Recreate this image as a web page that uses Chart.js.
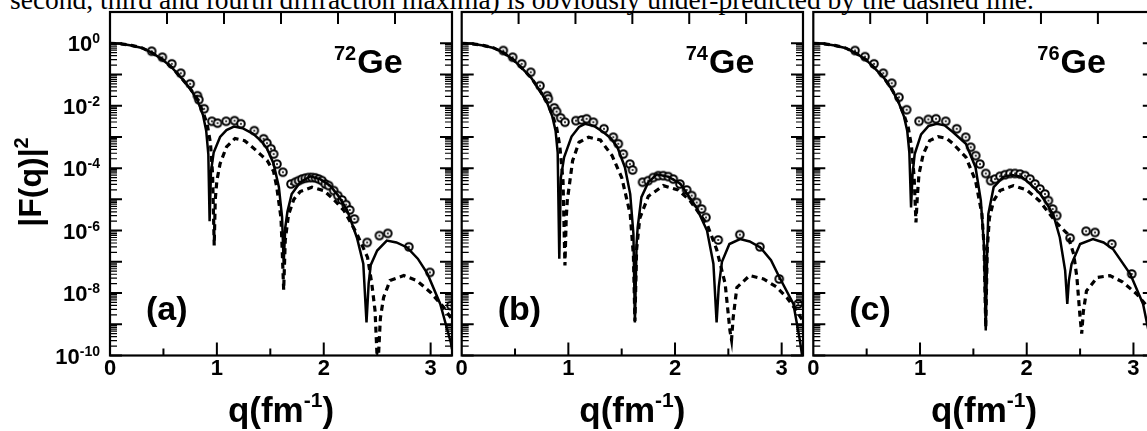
<!DOCTYPE html>
<html>
<head>
<meta charset="utf-8">
<script src="https://cdn.jsdelivr.net/npm/chart.js@4.4.0/dist/chart.umd.min.js"></script>
<style>
html, body { margin: 0; padding: 0; background: #fff; overflow: hidden; }
#wrap { position: relative; width: 1147px; height: 431px; overflow: hidden; }
canvas { position: absolute; top: 0; }
#caption { position: absolute; left: 10px; top: -14px; font: 27.5px "Liberation Serif", serif; line-height: 27.5px; white-space: nowrap; color: #000; }
</style>
</head>
<body>
<div id="wrap">
  <div id="caption">second, third and fourth diffraction maxima) is obviously under-predicted by the dashed line.</div>
  <canvas id="chartA" width="458" height="431" style="left:0px"></canvas>
  <canvas id="chartB" width="352" height="431" style="left:456px"></canvas>
  <canvas id="chartC" width="352" height="431" style="left:808px"></canvas>
</div>
<script>
// values are [q (fm^-1), log10 |F(q)|^2]

// (a) 72Ge
const solidA = [[0,0],[0.1,-0.02],[0.2,-0.07],[0.3,-0.15],[0.39,-0.3],[0.49,-0.52],[0.58,-0.78],[0.66,-1.08],[0.75,-1.45],[0.82,-1.84],[0.87,-2.3],[0.9,-2.8],[0.92,-3.55],[0.932,-5.7],[0.945,-4.1],[0.97,-3.5],[1.03,-3.0],[1.09,-2.78],[1.16,-2.67],[1.24,-2.72],[1.34,-2.9],[1.42,-3.15],[1.47,-3.38],[1.53,-3.85],[1.58,-4.6],[1.61,-5.57],[1.625,-7.06],[1.64,-5.9],[1.66,-5.4],[1.7,-4.83],[1.78,-4.45],[1.875,-4.26],[1.97,-4.36],[2.06,-4.56],[2.14,-4.9],[2.22,-5.36],[2.31,-6.22],[2.37,-7.06],[2.4,-8.94],[2.42,-7.7],[2.44,-7.1],[2.5,-6.64],[2.59,-6.32],[2.68,-6.38],[2.78,-6.54],[2.88,-6.9],[2.97,-7.38],[3.09,-8.35],[3.19,-9.6],[3.2,-9.8]];
const dashedA = [[0,0],[0.1,-0.02],[0.2,-0.07],[0.3,-0.15],[0.39,-0.3],[0.49,-0.52],[0.58,-0.78],[0.66,-1.08],[0.75,-1.45],[0.82,-1.8],[0.87,-2.2],[0.91,-2.6],[0.94,-3.2],[0.96,-4.2],[0.975,-6.48],[0.985,-5.0],[1.0,-4.4],[1.03,-3.86],[1.09,-3.32],[1.17,-3.05],[1.26,-3.12],[1.34,-3.35],[1.42,-3.6],[1.47,-3.75],[1.53,-4.1],[1.56,-4.6],[1.6,-5.6],[1.625,-7.9],[1.64,-6.3],[1.67,-5.5],[1.72,-5.0],[1.78,-4.75],[1.89,-4.61],[2.0,-4.72],[2.09,-4.99],[2.19,-5.36],[2.31,-6.1],[2.41,-6.86],[2.45,-7.71],[2.48,-8.57],[2.505,-10.5],[2.53,-8.8],[2.56,-8.14],[2.62,-7.6],[2.75,-7.44],[2.87,-7.6],[3.0,-7.98],[3.12,-8.45],[3.2,-8.85]];
const dataA = [[0.39,-0.256],[0.49,-0.448],[0.578,-0.66],[0.662,-0.96],[0.75,-1.3],[0.818,-1.68],[0.831,-1.81],[0.881,-2.1],[0.953,-2.5],[1.006,-2.56],[1.087,-2.5],[1.165,-2.48],[1.225,-2.58],[1.35,-2.8],[1.437,-3.06],[1.468,-3.2],[1.506,-3.38],[1.531,-3.55],[1.562,-3.87],[1.618,-4.13],[1.693,-4.51],[1.734,-4.45],[1.765,-4.4],[1.797,-4.35],[1.828,-4.32],[1.859,-4.3],[1.89,-4.3],[1.922,-4.31],[1.953,-4.35],[1.984,-4.4],[2.015,-4.51],[2.046,-4.56],[2.093,-4.72],[2.131,-4.88],[2.171,-5.02],[2.209,-5.17],[2.243,-5.34],[2.287,-5.63],[2.406,-6.38],[2.521,-6.16],[2.599,-6.09],[2.796,-6.52],[2.993,-7.34],[3.19,-8.4]];

// (b) 74Ge
const solidB = [[0,0],[0.1,-0.02],[0.2,-0.07],[0.3,-0.15],[0.39,-0.3],[0.48,-0.52],[0.56,-0.78],[0.65,-1.1],[0.73,-1.5],[0.8,-1.9],[0.85,-2.35],[0.88,-2.8],[0.9,-3.5],[0.915,-6.9],[0.93,-4.3],[0.96,-3.65],[1.03,-2.99],[1.1,-2.68],[1.156,-2.58],[1.24,-2.65],[1.33,-2.85],[1.4,-3.05],[1.46,-3.33],[1.53,-3.97],[1.58,-4.83],[1.61,-6.1],[1.624,-8.94],[1.64,-6.4],[1.65,-5.9],[1.685,-4.93],[1.75,-4.45],[1.83,-4.2],[1.94,-4.28],[2.05,-4.5],[2.2,-5.26],[2.3,-6.0],[2.36,-7.06],[2.39,-8.94],[2.41,-7.8],[2.44,-7.0],[2.51,-6.43],[2.61,-6.27],[2.7,-6.35],[2.8,-6.54],[2.9,-6.95],[2.98,-7.5],[3.11,-8.35],[3.17,-9.5],[3.2,-10.2]];
const dashedB = [[0,0],[0.1,-0.02],[0.2,-0.07],[0.3,-0.15],[0.39,-0.3],[0.48,-0.52],[0.56,-0.78],[0.65,-1.1],[0.73,-1.5],[0.8,-1.88],[0.85,-2.3],[0.89,-2.7],[0.92,-3.3],[0.95,-4.4],[0.968,-7.12],[0.98,-5.6],[0.99,-5.04],[1.04,-3.76],[1.1,-3.17],[1.19,-3.01],[1.3,-3.1],[1.41,-3.6],[1.5,-4.3],[1.58,-5.47],[1.61,-6.8],[1.624,-8.9],[1.64,-6.6],[1.67,-5.6],[1.75,-4.9],[1.89,-4.56],[2.03,-4.7],[2.14,-5.04],[2.3,-5.79],[2.39,-6.6],[2.47,-7.7],[2.515,-9.2],[2.53,-9.5],[2.545,-8.8],[2.58,-7.82],[2.7,-7.44],[2.83,-7.55],[2.95,-7.8],[3.05,-8.15],[3.14,-8.57],[3.2,-8.9]];
const dataB = [[0.39,-0.234],[0.478,-0.448],[0.562,-0.66],[0.647,-0.93],[0.734,-1.36],[0.802,-1.68],[0.812,-1.78],[0.868,-2.07],[0.89,-2.19],[0.928,-2.39],[0.968,-2.53],[1.071,-2.48],[1.125,-2.46],[1.171,-2.42],[1.234,-2.53],[1.334,-2.74],[1.421,-3.01],[1.468,-3.22],[1.515,-3.55],[1.577,-3.87],[1.602,-4.06],[1.696,-4.45],[1.749,-4.4],[1.796,-4.3],[1.843,-4.24],[1.89,-4.24],[1.937,-4.27],[1.984,-4.35],[2.046,-4.51],[2.109,-4.7],[2.156,-4.88],[2.203,-5.1],[2.249,-5.31],[2.29,-5.58],[2.405,-6.3],[2.608,-6.13],[2.796,-6.52],[2.977,-7.55],[3.155,-8.35]];

// (c) 76Ge
const solidC = [[0,0],[0.1,-0.02],[0.2,-0.07],[0.3,-0.15],[0.39,-0.3],[0.49,-0.52],[0.57,-0.78],[0.66,-1.1],[0.74,-1.5],[0.8,-1.9],[0.85,-2.35],[0.88,-2.8],[0.9,-3.5],[0.916,-5.26],[0.93,-4.2],[0.95,-3.55],[1.01,-2.92],[1.08,-2.65],[1.156,-2.58],[1.23,-2.63],[1.31,-2.85],[1.43,-3.22],[1.52,-3.97],[1.57,-5.04],[1.6,-6.5],[1.616,-9.2],[1.63,-6.5],[1.64,-5.47],[1.69,-4.61],[1.78,-4.28],[1.86,-4.22],[1.95,-4.27],[2.03,-4.5],[2.12,-4.8],[2.19,-5.15],[2.25,-5.5],[2.31,-6.22],[2.36,-7.28],[2.38,-8.35],[2.395,-7.6],[2.42,-7.07],[2.5,-6.43],[2.62,-6.27],[2.72,-6.38],[2.81,-6.6],[2.97,-7.39],[3.09,-8.35],[3.2,-10.2]];
const dashedC = [[0,0],[0.1,-0.02],[0.2,-0.07],[0.3,-0.15],[0.39,-0.3],[0.49,-0.52],[0.57,-0.78],[0.66,-1.1],[0.74,-1.5],[0.8,-1.88],[0.85,-2.3],[0.89,-2.7],[0.92,-3.3],[0.945,-4.3],[0.962,-5.74],[0.975,-4.9],[0.99,-4.2],[1.03,-3.55],[1.09,-3.12],[1.17,-2.99],[1.25,-3.05],[1.31,-3.22],[1.43,-3.65],[1.52,-4.4],[1.58,-5.47],[1.6,-6.5],[1.616,-9.1],[1.63,-6.6],[1.65,-5.6],[1.69,-5.04],[1.75,-4.72],[1.875,-4.56],[2.0,-4.7],[2.12,-5.05],[2.28,-5.75],[2.38,-6.1],[2.44,-6.75],[2.47,-7.5],[2.5,-8.78],[2.515,-9.3],[2.53,-8.6],[2.56,-7.93],[2.66,-7.5],[2.78,-7.44],[2.9,-7.65],[3.03,-8.03],[3.11,-8.35],[3.2,-8.75]];
const dataC = [[0.391,-0.234],[0.485,-0.43],[0.569,-0.66],[0.656,-0.96],[0.735,-1.28],[0.803,-1.73],[0.875,-2.13],[0.991,-2.5],[1.078,-2.44],[1.15,-2.42],[1.241,-2.5],[1.344,-2.74],[1.428,-3.01],[1.475,-3.33],[1.522,-3.6],[1.562,-3.87],[1.616,-4.17],[1.662,-4.4],[1.703,-4.35],[1.75,-4.26],[1.797,-4.21],[1.843,-4.17],[1.89,-4.17],[1.937,-4.19],[1.984,-4.24],[2.031,-4.35],[2.078,-4.51],[2.124,-4.67],[2.171,-4.83],[2.203,-5.04],[2.243,-5.31],[2.281,-5.52],[2.406,-6.24],[2.556,-6.02],[2.64,-6.06],[2.797,-6.43],[2.984,-7.39]];

// axis ticks
const xLabels = [0, 1, 2, 3];
const xMajor = [1, 2, 3];
const xMinor = [0.5, 1.5, 2.5];
const topTicks = [1, 2, 3, 4, 5];
const decades = [-10, -9, -8, -7, -6, -5, -4, -3, -2, -1, 0];
const minorSteps = [2, 3, 4, 5, 6, 7, 8, 9];
const yLabelExps = [0, -2, -4, -6, -8, -10];

const toXY = arr => arr.map(p => ({ x: p[0], y: Math.pow(10, p[1]) }));

// open circle with a dot, like the experimental points
const marker = document.createElement('canvas');
marker.width = 12; marker.height = 12;
(function () {
    const m = marker.getContext('2d');
    m.beginPath();
    m.arc(6, 6, 3.8, 0, Math.PI * 2);
    m.fillStyle = '#fff';
    m.fill();
    m.lineWidth = 2;
    m.strokeStyle = '#000';
    m.stroke();
    m.beginPath();
    m.arc(6, 6, 1, 0, Math.PI * 2);
    m.fillStyle = '#000';
    m.fill();
})();

const BOLD = '"Liberation Sans", Arial, sans-serif';

const deco = {
    id: 'deco',
    afterDatasetsDraw(chart, args, opts) {
        const ctx = chart.ctx;
        const a = chart.chartArea;
        const x = chart.scales.x, xt = chart.scales.xTop, y = chart.scales.y;
        ctx.save();
        ctx.strokeStyle = '#000';
        ctx.fillStyle = '#000';

        // log ticks on both sides, pointing in
        for (const d of decades) {
            const py = y.getPixelForValue(Math.pow(10, d));
            ctx.lineWidth = 2;
            ctx.beginPath();
            ctx.moveTo(a.left, py); ctx.lineTo(a.left + 12, py);
            ctx.moveTo(a.right, py); ctx.lineTo(a.right - 12, py);
            ctx.stroke();
            if (d === 0) continue;
            ctx.lineWidth = 1.2;
            ctx.beginPath();
            for (const s of minorSteps) {
                const pm = y.getPixelForValue(s * Math.pow(10, d));
                ctx.moveTo(a.left, pm); ctx.lineTo(a.left + 7, pm);
                ctx.moveTo(a.right, pm); ctx.lineTo(a.right - 7, pm);
            }
            ctx.stroke();
        }
        ctx.lineWidth = 2;
        ctx.beginPath();
        for (const v of xMajor) {
            const px = x.getPixelForValue(v);
            ctx.moveTo(px, a.bottom); ctx.lineTo(px, a.bottom - 13);
        }
        for (const v of xMinor) {
            const px = x.getPixelForValue(v);
            ctx.moveTo(px, a.bottom); ctx.lineTo(px, a.bottom - 7);
        }
        for (const v of topTicks) {
            const px = xt.getPixelForValue(v);
            ctx.moveTo(px, a.top); ctx.lineTo(px, a.top + 12);
        }
        ctx.stroke();

        ctx.lineWidth = 2.2;
        ctx.strokeRect(a.left, a.top, a.right - a.left, a.bottom - a.top);

        // x tick labels
        ctx.font = 'bold 22px ' + BOLD;
        ctx.textAlign = 'center';
        ctx.textBaseline = 'alphabetic';
        for (const v of xLabels) {
            ctx.fillText(String(v), x.getPixelForValue(v), 375);
        }

        // y tick labels 10^n
        ctx.textAlign = 'left';
        if (opts.yLabels) {
            for (const e of yLabelExps) {
                const py = y.getPixelForValue(Math.pow(10, e));
                ctx.font = 'bold 14px ' + BOLD;
                const sw = ctx.measureText(String(e)).width;
                ctx.font = 'bold 22px ' + BOLD;
                const tw = ctx.measureText('10').width;
                ctx.fillText('10', 100 - sw - tw, py + 8);
                ctx.font = 'bold 14px ' + BOLD;
                ctx.fillText(String(e), 100 - sw, py);
            }
        }

        // isotope label
        ctx.font = 'bold 20px ' + BOLD;
        ctx.fillText(opts.iso, a.left + 224, a.top + 48);
        const iw = ctx.measureText(opts.iso).width;
        ctx.font = 'bold 34px ' + BOLD;
        ctx.fillText('Ge', a.left + 225 + iw, a.top + 61);

        // panel tag
        ctx.font = 'bold 34px ' + BOLD;
        ctx.fillText(opts.tag, a.left + 36, 320);

        // x title q(fm^-1)
        const cx = (a.left + a.right) / 2;
        ctx.font = 'bold 35px ' + BOLD;
        const w1 = ctx.measureText('q(fm').width;
        const w3 = ctx.measureText(')').width;
        ctx.font = 'bold 21px ' + BOLD;
        const w2 = ctx.measureText('-1').width;
        let sx = cx - (w1 + w2 + w3) / 2;
        ctx.font = 'bold 35px ' + BOLD;
        ctx.fillText('q(fm', sx, 422);
        ctx.font = 'bold 21px ' + BOLD;
        ctx.fillText('-1', sx + w1, 407);
        ctx.font = 'bold 35px ' + BOLD;
        ctx.fillText(')', sx + w1 + w2, 422);

        // y title |F(q)|^2
        if (opts.yTitle) {
            ctx.translate(40.5, 182);
            ctx.rotate(-Math.PI / 2);
            ctx.font = 'bold 32px ' + BOLD;
            const t1 = ctx.measureText('|F(q)|').width;
            ctx.font = 'bold 20px ' + BOLD;
            const t2 = ctx.measureText('2').width;
            const s0 = -(t1 + t2) / 2;
            ctx.font = 'bold 32px ' + BOLD;
            ctx.fillText('|F(q)|', s0, 0);
            ctx.font = 'bold 20px ' + BOLD;
            ctx.fillText('2', s0 + t1, -13);
        }
        ctx.restore();
    }
};

function makePanel(id, solid, dashed, points, pad, deco_opts) {
    return new Chart(document.getElementById(id), {
        type: 'line',
        data: {
            datasets: [
                {
                    label: 'solid',
                    data: toXY(solid),
                    borderColor: '#000',
                    borderWidth: 2.5,
                    pointRadius: 0,
                    tension: 0,
                    fill: false,
                    clip: 0
                },
                {
                    label: 'dashed',
                    data: toXY(dashed),
                    borderColor: '#000',
                    borderWidth: 3.2,
                    borderDash: [6, 4.5],
                    pointRadius: 0,
                    tension: 0,
                    fill: false,
                    clip: 0
                },
                {
                    label: 'data',
                    data: toXY(points),
                    showLine: false,
                    pointStyle: marker,
                    pointRadius: 4,
                    clip: 0
                }
            ]
        },
        options: {
            responsive: false,
            animation: false,
            events: [],
            layout: { padding: pad },
            scales: {
                x: { type: 'linear', min: 0, max: 3.2, display: false },
                xTop: { type: 'linear', position: 'top', min: 0, max: 6, display: false },
                y: { type: 'logarithmic', min: 1e-10, max: 10, display: false }
            },
            plugins: {
                legend: { display: false },
                tooltip: { enabled: false },
                deco: deco_opts
            }
        },
        plugins: [deco]
    });
}

makePanel('chartA', solidA, dashedA, dataA,
    { left: 110, right: 6, top: 12, bottom: 75.5 },
    { iso: '72', tag: '(a)', yLabels: true, yTitle: true });
makePanel('chartB', solidB, dashedB, dataB,
    { left: 5.7, right: 4.7, top: 12, bottom: 75.5 },
    { iso: '74', tag: '(b)', yLabels: false, yTitle: false });
makePanel('chartC', solidC, dashedC, dataC,
    { left: 5.3, right: 5.2, top: 12, bottom: 75.5 },
    { iso: '76', tag: '(c)', yLabels: false, yTitle: false });
</script>
</body>
</html>
